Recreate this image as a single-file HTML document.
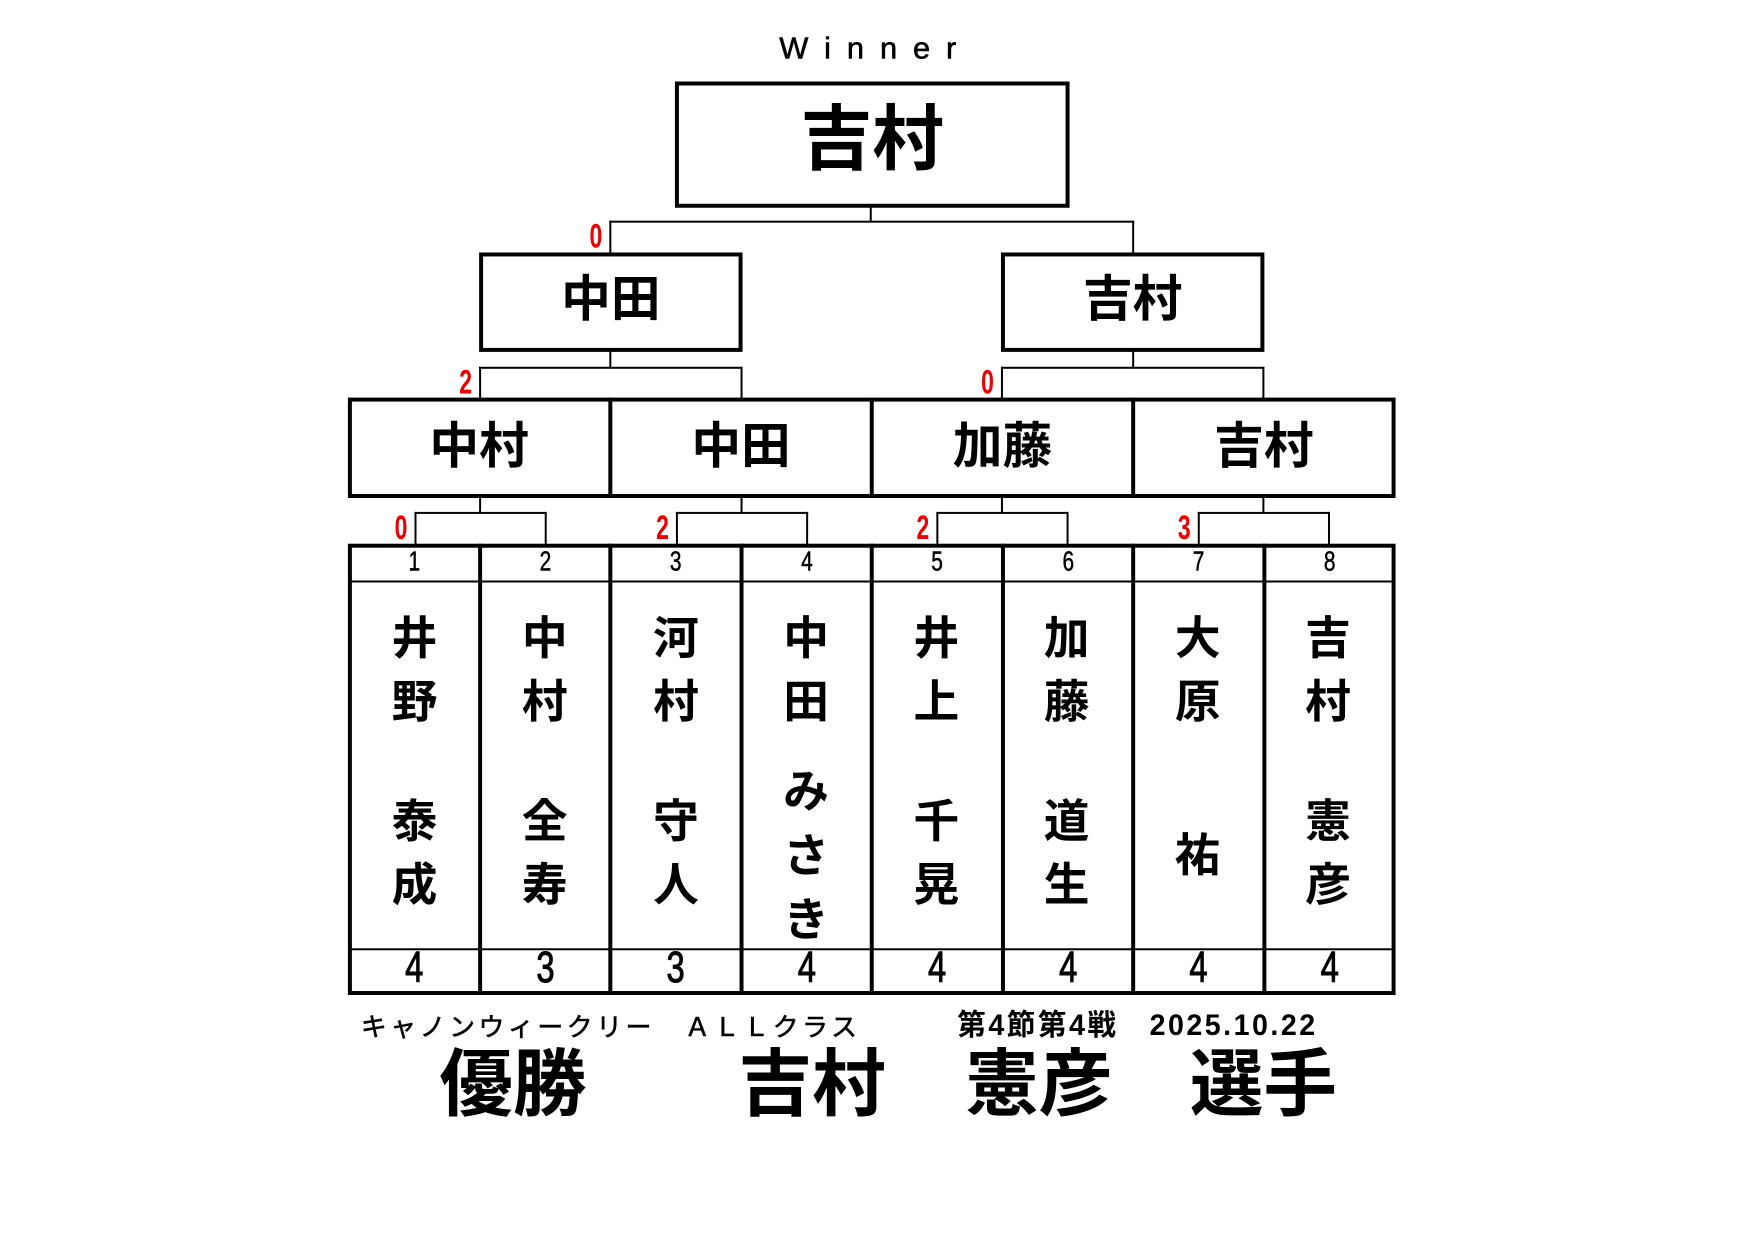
<!DOCTYPE html>
<html><head><meta charset="utf-8"><style>
*{margin:0;padding:0;box-sizing:border-box}
body{width:1754px;height:1240px;background:#fff;position:relative;overflow:hidden;font-family:"Liberation Sans","Noto Sans CJK JP",sans-serif;font-weight:bold;color:#000}
#w{position:absolute;left:0;top:0;width:1754px;height:1240px;transform-origin:0 0;transform:translate(1px,1px) scale(0.994)}
.a{position:absolute}
.bx{position:absolute;border:4px solid #000}
.l{position:absolute;background:#000}
.t{position:absolute;text-align:center;white-space:nowrap}
.r{position:absolute;color:#e00;font-size:34px;font-weight:bold;line-height:1;transform:scaleX(0.68)}
.nm{position:absolute;text-align:center;font-size:46px;line-height:1}
.n{width:131.5px;text-align:center;transform:scaleX(.75)}
</style></head><body><div id="w">
<div class="t" style="left:700px;width:360px;top:28px;font-size:31px;line-height:40px;letter-spacing:16px;font-weight:normal;-webkit-text-stroke:0.6px #000">Winner</div>
<div class="bx" style="left:678px;top:81px;width:397px;height:127px"></div>
<div class="t" style="left:678px;width:397px;top:100px;font-size:72px;line-height:80px">吉村</div>

<div class="l" style="left:874px;top:207px;width:2px;height:16px"></div>
<div class="l" style="left:612px;top:221px;width:528px;height:2px"></div>
<div class="l" style="left:612px;top:221px;width:2px;height:33px"></div>
<div class="l" style="left:1138px;top:221px;width:2px;height:33px"></div>
<div class="r" style="left:589px;top:220px">0</div>

<div class="bx" style="left:481px;top:253px;width:265px;height:100px"></div>
<div class="t" style="left:481px;width:265px;top:270px;font-size:50px;line-height:60px">中田</div>
<div class="bx" style="left:1006px;top:253px;width:265px;height:100px"></div>
<div class="t" style="left:1006px;width:265px;top:270px;font-size:50px;line-height:60px">吉村</div>

<div class="l" style="left:612px;top:352px;width:2px;height:17px"></div>
<div class="l" style="left:481px;top:368px;width:265px;height:2px"></div>
<div class="l" style="left:481px;top:368px;width:2px;height:33px"></div>
<div class="l" style="left:744px;top:368px;width:2px;height:33px"></div>
<div class="r" style="left:458px;top:367px">2</div>
<div class="l" style="left:1138px;top:352px;width:2px;height:17px"></div>
<div class="l" style="left:1006px;top:368px;width:265px;height:2px"></div>
<div class="l" style="left:1006px;top:368px;width:2px;height:33px"></div>
<div class="l" style="left:1269px;top:368px;width:2px;height:33px"></div>
<div class="r" style="left:983px;top:367px">0</div>

<div class="bx" style="left:349px;top:399px;width:1054px;height:101px"></div>
<div class="l" style="left:611px;top:399px;width:4px;height:101px"></div>
<div class="l" style="left:874px;top:399px;width:4px;height:101px"></div>
<div class="l" style="left:1137px;top:399px;width:4px;height:101px"></div>
<div class="t" style="left:349px;width:264px;top:418px;font-size:50px;line-height:60px">中村</div>
<div class="t" style="left:613px;width:263px;top:418px;font-size:50px;line-height:60px">中田</div>
<div class="t" style="left:876px;width:263px;top:418px;font-size:50px;line-height:60px">加藤</div>
<div class="t" style="left:1139px;width:263px;top:418px;font-size:50px;line-height:60px">吉村</div>

<div class="l" style="left:481px;top:499px;width:2px;height:16px"></div>
<div class="l" style="left:416px;top:514px;width:133px;height:2px"></div>
<div class="l" style="left:416px;top:514px;width:2px;height:35px"></div>
<div class="l" style="left:547px;top:514px;width:2px;height:35px"></div>
<div class="r" style="left:393px;top:513px">0</div>
<div class="l" style="left:744px;top:499px;width:2px;height:16px"></div>
<div class="l" style="left:679px;top:514px;width:133px;height:2px"></div>
<div class="l" style="left:679px;top:514px;width:2px;height:35px"></div>
<div class="l" style="left:810px;top:514px;width:2px;height:35px"></div>
<div class="r" style="left:656px;top:513px">2</div>
<div class="l" style="left:1006px;top:499px;width:2px;height:16px"></div>
<div class="l" style="left:941px;top:514px;width:133px;height:2px"></div>
<div class="l" style="left:941px;top:514px;width:2px;height:35px"></div>
<div class="l" style="left:1072px;top:514px;width:2px;height:35px"></div>
<div class="r" style="left:918px;top:513px">2</div>
<div class="l" style="left:1269px;top:499px;width:2px;height:16px"></div>
<div class="l" style="left:1204px;top:514px;width:133px;height:2px"></div>
<div class="l" style="left:1204px;top:514px;width:2px;height:35px"></div>
<div class="l" style="left:1335px;top:514px;width:2px;height:35px"></div>
<div class="r" style="left:1181px;top:513px">3</div>

<div class="bx" style="left:349px;top:546px;width:1054px;height:454px"></div>
<div class="l" style="left:350px;top:583px;width:1052px;height:2px"></div>
<div class="l" style="left:350px;top:953px;width:1052px;height:2px"></div>
<div class="l" style="left:480px;top:546px;width:4px;height:454px"></div>
<div class="l" style="left:611px;top:546px;width:4px;height:454px"></div>
<div class="l" style="left:743px;top:546px;width:4px;height:454px"></div>
<div class="l" style="left:874px;top:546px;width:4px;height:454px"></div>
<div class="l" style="left:1006px;top:546px;width:4px;height:454px"></div>
<div class="l" style="left:1137px;top:546px;width:4px;height:454px"></div>
<div class="l" style="left:1269px;top:546px;width:4px;height:454px"></div>

<div style="position:absolute;left:350px;top:548px;width:1052px;font-weight:normal;font-size:28px;line-height:32px;display:flex;-webkit-text-stroke:0.5px #000">
<div class="n">1</div><div class="n">2</div><div class="n">3</div><div class="n">4</div><div class="n">5</div><div class="n">6</div><div class="n">7</div><div class="n">8</div>
</div>
<div style="position:absolute;left:350px;top:950px;width:1052px;font-weight:normal;font-size:44px;line-height:46px;display:flex;-webkit-text-stroke:1px #000">
<div class="n">4</div><div class="n">3</div><div class="n">3</div><div class="n">4</div><div class="n">4</div><div class="n">4</div><div class="n">4</div><div class="n">4</div>
</div>

<div class="nm" style="left:386px;width:60px;top:618px">井</div><div class="nm" style="left:386px;width:60px;top:682px">野</div><div class="nm" style="left:386px;width:60px;top:802px">泰</div><div class="nm" style="left:386px;width:60px;top:866px">成</div>
<div class="nm" style="left:517px;width:60px;top:618px">中</div><div class="nm" style="left:517px;width:60px;top:682px">村</div><div class="nm" style="left:517px;width:60px;top:802px">全</div><div class="nm" style="left:517px;width:60px;top:866px">寿</div>
<div class="nm" style="left:649px;width:60px;top:618px">河</div><div class="nm" style="left:649px;width:60px;top:682px">村</div><div class="nm" style="left:649px;width:60px;top:802px">守</div><div class="nm" style="left:649px;width:60px;top:866px">人</div>
<div class="nm" style="left:780px;width:60px;top:618px">中</div><div class="nm" style="left:780px;width:60px;top:682px">田</div><div class="nm" style="left:780px;width:60px;top:772px">み</div><div class="nm" style="left:780px;width:60px;top:837px">さ</div><div class="nm" style="left:780px;width:60px;top:901px">き</div>
<div class="nm" style="left:911px;width:60px;top:618px">井</div><div class="nm" style="left:911px;width:60px;top:682px">上</div><div class="nm" style="left:911px;width:60px;top:802px">千</div><div class="nm" style="left:911px;width:60px;top:866px">晃</div>
<div class="nm" style="left:1042px;width:60px;top:618px">加</div><div class="nm" style="left:1042px;width:60px;top:682px">藤</div><div class="nm" style="left:1042px;width:60px;top:802px">道</div><div class="nm" style="left:1042px;width:60px;top:866px">生</div>
<div class="nm" style="left:1174px;width:60px;top:618px">大</div><div class="nm" style="left:1174px;width:60px;top:682px">原</div><div class="nm" style="left:1174px;width:60px;top:836px">祐</div>
<div class="nm" style="left:1305px;width:60px;top:618px">吉</div><div class="nm" style="left:1305px;width:60px;top:682px">村</div><div class="nm" style="left:1305px;width:60px;top:802px">憲</div><div class="nm" style="left:1305px;width:60px;top:866px">彦</div>

<div class="a" style="left:362px;top:1016px;font-size:26px;line-height:32px;font-weight:normal;letter-spacing:3.6px;white-space:nowrap;-webkit-text-stroke:0.6px #000">キャノンウィークリー　ＡＬＬクラス</div>
<div class="a" style="left:962px;top:1014px;font-size:30px;line-height:34px;white-space:nowrap;letter-spacing:2.6px;transform:scaleX(.96);transform-origin:left">第4節第4戦　2025.10.22</div>
<div class="a" style="left:441px;top:1050px;font-size:74px;line-height:80px;white-space:nowrap">優勝</div>
<div class="a" style="left:742px;top:1050px;font-size:74px;line-height:80px;white-space:nowrap">吉村</div>
<div class="a" style="left:970px;top:1050px;font-size:74px;line-height:80px;white-space:nowrap">憲彦</div>
<div class="a" style="left:1196px;top:1050px;font-size:74px;line-height:80px;white-space:nowrap">選手</div>
</div></body></html>
